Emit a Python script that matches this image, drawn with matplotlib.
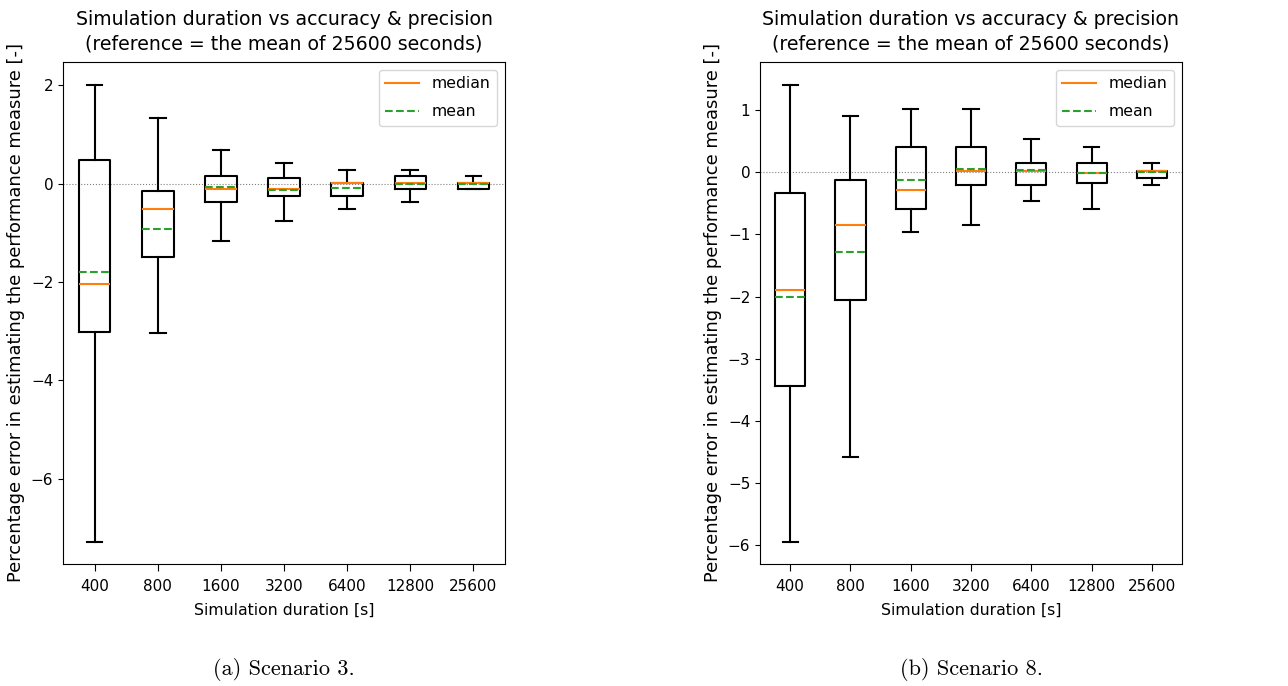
import matplotlib.pyplot as plt
from matplotlib.lines import Line2D

# durations on the x axis
durations = ['400', '800', '1600', '3200', '6400', '12800', '25600']

# Scenario 3 box statistics
s3_whislo = [-7.29, -3.03, -1.17, -0.77, -0.51, -0.38, -0.12]
s3_q1 = [-3.02, -1.50, -0.38, -0.25, -0.25, -0.12, -0.12]
s3_med = [-2.05, -0.51, -0.11, -0.11, 0.02, 0.02, 0.02]
s3_mean = [-1.80, -0.92, -0.07, -0.13, -0.08, 0.00, 0.00]
s3_q3 = [0.48, -0.155, 0.15, 0.11, 0.02, 0.15, 0.02]
s3_whishi = [2.01, 1.34, 0.68, 0.41, 0.27, 0.28, 0.15]

# Scenario 8 box statistics
s8_whislo = [-5.95, -4.58, -0.96, -0.85, -0.47, -0.60, -0.21]
s8_q1 = [-3.44, -2.06, -0.60, -0.21, -0.21, -0.18, -0.09]
s8_med = [-1.90, -0.85, -0.28, 0.02, 0.02, -0.02, 0.02]
s8_mean = [-2.01, -1.28, -0.12, 0.05, 0.03, -0.01, 0.00]
s8_q3 = [-0.34, -0.13, 0.40, 0.40, 0.15, 0.15, 0.02]
s8_whishi = [1.40, 0.90, 1.02, 1.02, 0.53, 0.41, 0.15]

captions = ['(a) Scenario 3.', '(b) Scenario 8.']


def make_stats(lo, q1, med, mean, q3, hi):
    stats = []
    for i in range(len(lo)):
        stats.append(dict(whislo=lo[i], q1=q1[i], med=med[i], mean=mean[i],
                          q3=q3[i], whishi=hi[i], fliers=[], label=durations[i]))
    return stats


fig = plt.figure(figsize=(12.88, 6.86), dpi=100)
ax1 = fig.add_axes([63/1288, 122/686, 442/1288, 502/686])
ax2 = fig.add_axes([760/1288, 122/686, 422/1288, 502/686])

all_stats = [make_stats(s3_whislo, s3_q1, s3_med, s3_mean, s3_q3, s3_whishi),
             make_stats(s8_whislo, s8_q1, s8_med, s8_mean, s8_q3, s8_whishi)]

fs = 11
lw = 1.5
for ax, stats, cap in zip([ax1, ax2], all_stats, captions):
    ax.bxp(stats, showmeans=True, meanline=True, showfliers=False, widths=0.5,
           boxprops=dict(linewidth=lw), whiskerprops=dict(linewidth=lw),
           capprops=dict(linewidth=lw),
           medianprops=dict(color='C1', linewidth=lw),
           meanprops=dict(color='C2', linestyle='--', linewidth=lw))
    ax.axhline(0, color='grey', linestyle=':', linewidth=0.8, zorder=0)
    ax.set_title('Simulation duration vs accuracy & precision\n'
                 '(reference = the mean of 25600 seconds)', fontsize=13.6,
                 linespacing=1.35, pad=9)
    ax.set_xlabel('Simulation duration [s]', fontsize=11.3, labelpad=6)
    ax.set_ylabel('Percentage error in estimating the performance measure [-]', fontsize=12.9)
    ax.tick_params(labelsize=fs)
    ax.tick_params(axis='x', length=5, pad=6)
    handles = [Line2D([], [], color='C1', linewidth=lw),
               Line2D([], [], color='C2', linestyle='--', linewidth=lw)]
    ax.legend(handles, ['median', 'mean'], loc='upper right', fontsize=11.3,
              labelspacing=0.85, handlelength=2.2)
    ax.text(0.5, -0.21, cap, transform=ax.transAxes, ha='center', va='center',
            fontsize=16, fontfamily='cmr10')

ax1.set_ylim(-7.73, 2.47)
ax1.set_yticks([-6, -4, -2, 0, 2])
ax2.set_ylim(-6.30, 1.77)
ax2.set_yticks([-6, -5, -4, -3, -2, -1, 0, 1])

fig.savefig('out.png', dpi=100)
